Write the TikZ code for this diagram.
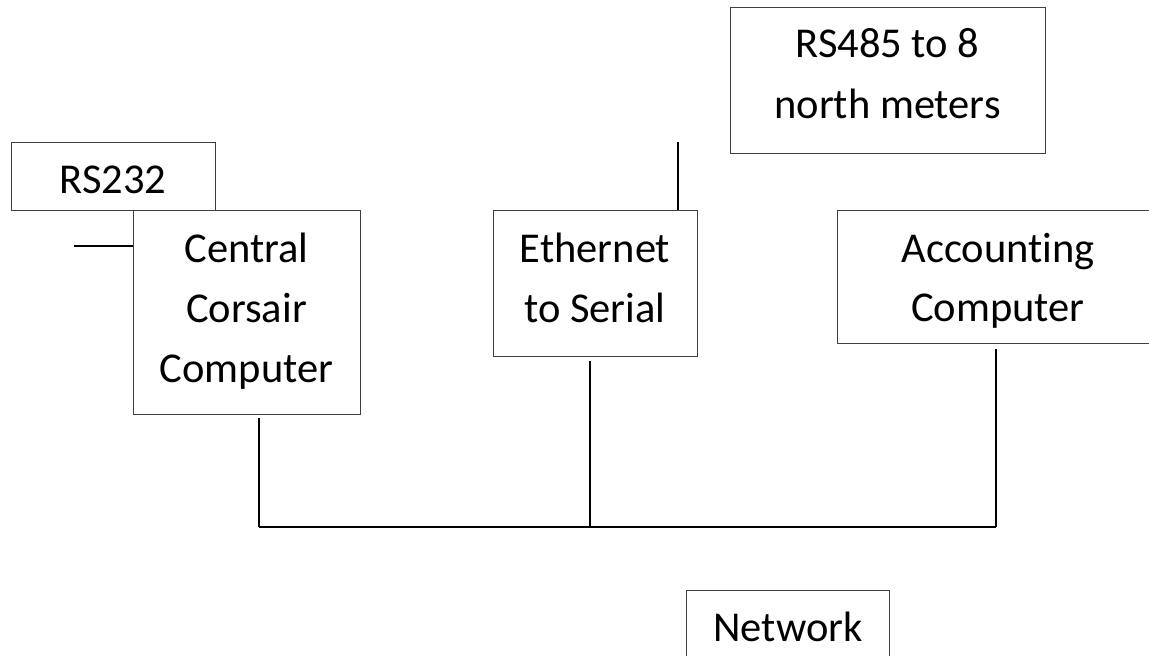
\documentclass[tikz,border=0pt]{standalone}
\usepackage{fontspec}
\setmainfont[Ligatures=NoCommon]{Carlito}
\begin{document}
\begin{tikzpicture}[x=1pt,y=-1pt,
  box/.style={draw=black!75, line width=1.3pt, rectangle, inner sep=0pt, anchor=north west},
  txt/.style={anchor=base, inner sep=0pt, text=black, font=\fontsize{42.5}{59}\selectfont},
  wire/.style={draw=black, line width=1.7pt},
  buswire/.style={draw=black, line width=2.2pt}]
\useasboundingbox (0,0) rectangle (1149,656);
\clip (0,0) rectangle (1149,656);
% boxes
\node[box, minimum width=204pt, minimum height=68pt]  (rs232)   at (11,142)  {};
\node[box, minimum width=227pt, minimum height=204pt] (central) at (133,210) {};
\node[box, minimum width=204pt, minimum height=146pt] (eth)     at (493,210) {};
\node[box, minimum width=315pt, minimum height=146pt] (rs485)   at (730,7)   {};
\node[box, minimum width=322pt, minimum height=133pt] (acct)    at (837,210) {};
\node[box, minimum width=203pt, minimum height=110pt] (net)     at (686,590) {};
% texts
\node[txt] (t232)  at (113,193)   {RS232};
\node[txt] (tc1)   at (246.5,262) {Central};
\node[txt] (tc2)   at (246.5,322) {Corsair};
\node[txt] (tc3)   at (246.5,382) {Computer};
\node[txt] (te1)   at (595,262)   {Ethernet};
\node[txt] (te2)   at (595,322)   {to Serial};
\node[txt] (tr1)   at (887.5,57)  {RS485 to 8};
\node[txt] (tr2)   at (887.5,118) {north meters};
\node[txt] (ta1)   at (998,262)   {Accounting};
\node[txt] (ta2)   at (998,321)   {Computer};
\node[txt] (tn)    at (788,641)   {Network};
% connectors
\coordinate (stub)   at (74,246);
\coordinate (ethtop) at (678,142);
\coordinate (busL)   at (259,527);
\coordinate (busM)   at (590,527);
\coordinate (busR)   at (996,527);
\draw[wire] (stub) -- (stub -| central.west);
\draw[wire] (ethtop) -- (ethtop |- eth.north);
\draw[wire] ([yshift=-3pt]busL |- central.south) -- (busL);
\draw[wire] ([yshift=-4pt]busM |- eth.south) -- (busM);
\draw[wire] ([yshift=-5pt]busR |- acct.south) -- (busR);
\draw[buswire] (busL) -- (busM) -- (busR);
\end{tikzpicture}
\end{document}
